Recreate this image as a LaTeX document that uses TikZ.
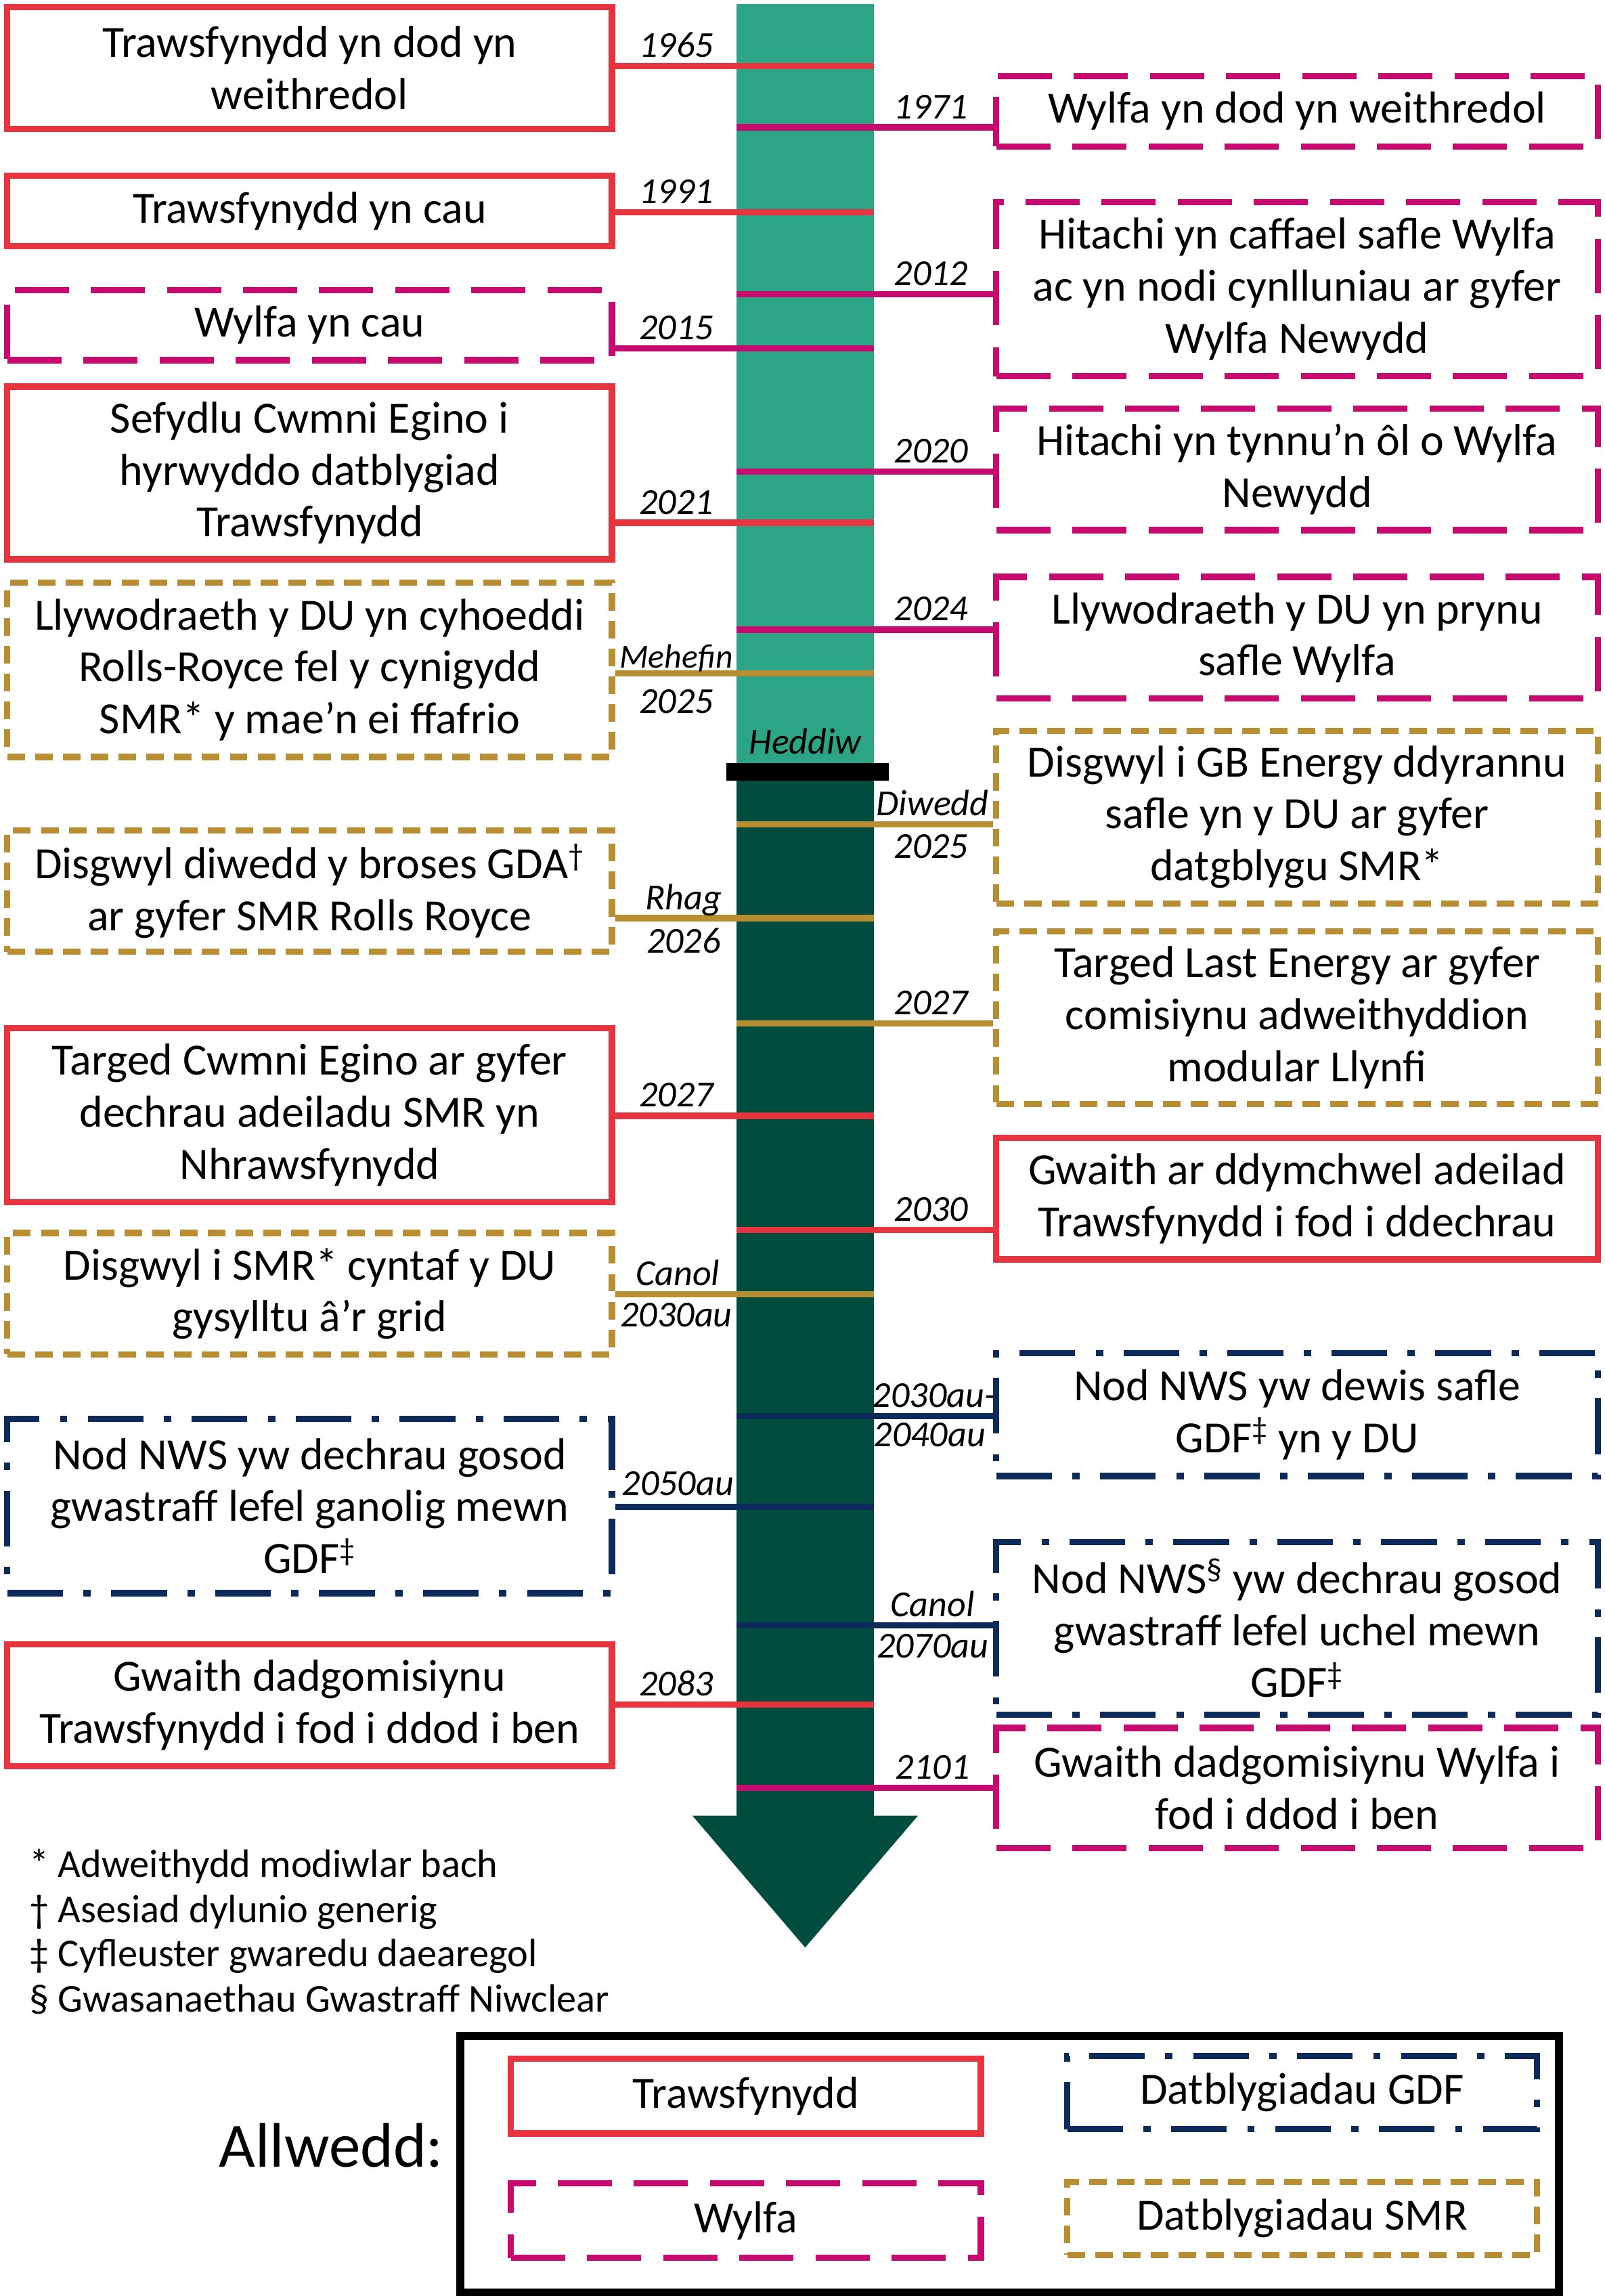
\documentclass[tikz,border=0pt]{standalone}
\usepackage{fontspec}
\setmainfont{Carlito}
\definecolor{cred}{HTML}{E8343F}
\definecolor{cmag}{HTML}{C8096F}
\definecolor{cgold}{HTML}{B98D31}
\definecolor{cnavy}{HTML}{0C2B5B}
\definecolor{clight}{HTML}{2CA586}
\definecolor{cdark}{HTML}{004D40}
\tikzset{
 box/.style={draw, line width=4.3pt, align=center, inner sep=0pt, fill=white,
   font=\fontsize{30.5}{35.5}\selectfont},
 trbox/.style={box, draw=cred},
 wybox/.style={box, draw=cmag, dash pattern=on 37pt off 15pt},
 smrbox/.style={box, draw=cgold, dash pattern=on 12pt off 7pt},
 gdfbox/.style={box, draw=cnavy, dash pattern=on 38pt off 14pt on 5pt off 14pt},
 lw/.style={minimum width=413pt},
 rw/.style={minimum width=411pt},
 conn/.style={line width=4.3pt},
 yr/.style={font=\fontsize{25}{28}\selectfont\itshape, inner sep=0pt, anchor=base},
 foot/.style={font=\fontsize{27}{30}\selectfont, inner sep=0pt, anchor=base west},
}
\begin{document}
\begin{tikzpicture}[x=1pt,y=-1pt]
\useasboundingbox (0,0) rectangle (1096,1568);
% timeline bar
\fill[clight] (503,3) rectangle (597,522);
\fill[cdark] (503,532) rectangle (597,1241);
\fill[cdark] (473,1240) -- (627,1240) -- (550,1330) -- cycle;
\fill[black] (496,521) rectangle (607,533);
\node[yr] (heddiw) at (550,515) {Heddiw};

% left boxes
\node[trbox, lw, minimum height=83pt] (L1) at (211.5,46.5) {Trawsfynydd yn dod yn\\weithredol};
\node[trbox, lw, minimum height=48pt] (L2) at (211.5,144) {Trawsfynydd yn cau};
\node[wybox, lw, minimum height=48pt] (L3) at (211.5,222) {Wylfa yn cau};
\node[trbox, lw, minimum height=118pt] (L4) at (211.5,323) {Sefydlu Cwmni Egino i\\hyrwyddo datblygiad\\Trawsfynydd};
\node[smrbox, lw, minimum height=119pt] (L5) at (211.5,457.5) {Llywodraeth y DU yn cyhoeddi\\Rolls-Royce fel y cynigydd\\SMR* y mae’n ei ffafrio};
\node[smrbox, lw, minimum height=83pt] (L6) at (211.5,608.5) {Disgwyl diwedd y broses GDA\textsuperscript{†}\\ar gyfer SMR Rolls Royce};
\node[trbox, lw, minimum height=119pt] (L7) at (211.5,761.5) {Targed Cwmni Egino ar gyfer\\dechrau adeiladu SMR yn\\Nhrawsfynydd};
\node[smrbox, lw, minimum height=83pt] (L8) at (211.5,883.5) {Disgwyl i SMR* cyntaf y DU\\gysylltu â’r grid};
\node[gdfbox, lw, minimum height=119pt] (L9) at (211.5,1028.5) {Nod NWS yw dechrau gosod\\gwastraff lefel ganolig mewn\\GDF\textsuperscript{‡}};
\node[trbox, lw, minimum height=83pt] (L10) at (211.5,1164.5) {Gwaith dadgomisiynu\\Trawsfynydd i fod i ddod i ben};

% right boxes
\node[wybox, rw, minimum height=48pt] (R1) at (886,76) {Wylfa yn dod yn weithredol};
\node[wybox, rw, minimum height=119pt] (R2) at (886,197.5) {Hitachi yn caffael safle Wylfa\\ac yn nodi cynlluniau ar gyfer\\Wylfa Newydd};
\node[wybox, rw, minimum height=83pt] (R3) at (886,320.5) {Hitachi yn tynnu’n ôl o Wylfa\\Newydd};
\node[wybox, rw, minimum height=83pt] (R4) at (886,435.5) {Llywodraeth y DU yn prynu\\safle Wylfa};
\node[smrbox, rw, minimum height=118pt] (R5) at (886,558) {Disgwyl i GB Energy ddyrannu\\safle yn y DU ar gyfer\\datgblygu SMR*};
\node[smrbox, rw, minimum height=118pt] (R6) at (886,695) {Targed Last Energy ar gyfer\\comisiynu adweithyddion\\modular Llynfi};
\node[trbox, rw, minimum height=83pt] (R7) at (886,818.5) {Gwaith ar ddymchwel adeilad\\Trawsfynydd i fod i ddechrau};
\node[gdfbox, rw, minimum height=84pt] (R8) at (886,966) {Nod NWS yw dewis safle\\GDF\textsuperscript{‡} yn y DU};
\node[gdfbox, rw, minimum height=118pt] (R9) at (886,1112) {Nod NWS\textsuperscript{§} yw dechrau gosod\\gwastraff lefel uchel mewn\\GDF\textsuperscript{‡}};
\node[wybox, rw, minimum height=82pt, fill=none] (R10) at (886,1221) {Gwaith dadgomisiynu Wylfa i\\fod i ddod i ben};

% bar anchor points
\coordinate (bL1) at (597,45);
\coordinate (bL2) at (597,145);
\coordinate (bL3) at (597,238);
\coordinate (bL4) at (597,357);
\coordinate (bL5) at (597,460);
\coordinate (bL6) at (597,627);
\coordinate (bL7) at (597,762);
\coordinate (bL8) at (597,884);
\coordinate (bL9) at (597,1029);
\coordinate (bL10) at (597,1164);
\coordinate (bR1) at (503,87);
\coordinate (bR2) at (503,201);
\coordinate (bR3) at (503,322);
\coordinate (bR4) at (503,430);
\coordinate (bR5) at (503,563);
\coordinate (bR6) at (503,699);
\coordinate (bR7) at (503,840);
\coordinate (bR8) at (503,967);
\coordinate (bR9) at (503,1110);
\coordinate (bR10) at (503,1221);

% connectors
\draw[conn, cred] (L1.east |- bL1) -- (bL1);
\draw[conn, cred] (L2.east |- bL2) -- (bL2);
\draw[conn, cmag] (L3.east |- bL3) -- (bL3);
\draw[conn, cred] (L4.east |- bL4) -- (bL4);
\draw[conn, cgold] (L5.east |- bL5) -- (bL5);
\draw[conn, cgold] (L6.east |- bL6) -- (bL6);
\draw[conn, cred] (L7.east |- bL7) -- (bL7);
\draw[conn, cgold] (L8.east |- bL8) -- (bL8);
\draw[conn, cnavy] (L9.east |- bL9) -- (bL9);
\draw[conn, cred] (L10.east |- bL10) -- (bL10);
\draw[conn, cmag] (bR1) -- (R1.west |- bR1);
\draw[conn, cmag] (bR2) -- (R2.west |- bR2);
\draw[conn, cmag] (bR3) -- (R3.west |- bR3);
\draw[conn, cmag] (bR4) -- (R4.west |- bR4);
\draw[conn, cgold] (bR5) -- (R5.west |- bR5);
\draw[conn, cgold] (bR6) -- (R6.west |- bR6);
\draw[conn, cred] (bR7) -- (R7.west |- bR7);
\draw[conn, cnavy] (bR8) -- (R8.west |- bR8);
\draw[conn, cnavy] (bR9) -- (R9.west |- bR9);
\draw[conn, cmag] (bR10) -- (R10.west |- bR10);

% year labels, left
\node[yr] (y1965) at (462,39) {1965};
\node[yr] (y1991) at (462,139) {1991};
\node[yr] (y2015) at (462,232) {2015};
\node[yr] (y2021) at (462,351) {2021};
\node[yr, font=\fontsize{23}{26}\selectfont\itshape] (y5a) at (462,456) {Mehefin};
\node[yr] (y5b) at (462,487) {2025};
\node[yr] (y6a) at (467,621) {Rhag};
\node[yr] (y6b) at (467,651) {2026};
\node[yr] (y2027a) at (462,756) {2027};
\node[yr] (y8a) at (463,878) {Canol};
\node[yr] (y8b) at (462,906) {2030au};
\node[yr] (y2050) at (463,1021) {2050au};
\node[yr] (y2083) at (462,1158) {2083};
% year labels, right
\node[yr] (y1971) at (636,81) {1971};
\node[yr] (y2012) at (636,195) {2012};
\node[yr] (y2020) at (636,316) {2020};
\node[yr] (y2024) at (636,424) {2024};
\node[yr] (yR5a) at (637,557) {Diwedd};
\node[yr] (yR5b) at (636,586) {2025};
\node[yr] (y2027b) at (636,693) {2027};
\node[yr] (y2030) at (636,834) {2030};
\node[yr] (yR8a) at (638,961) {2030au-};
\node[yr] (yR8b) at (635,988) {2040au};
\node[yr] (yR9a) at (637,1104) {Canol};
\node[yr] (yR9b) at (637,1132) {2070au};
\node[yr] (y2101) at (637,1215) {2101};

% footnotes
\node[foot] (f1) at (20,1282) {* Adweithydd modiwlar bach};
\node[foot] (f2) at (20,1313) {† Asesiad dylunio generig};
\node[foot] (f3) at (20,1343) {‡ Cyfleuster gwaredu daearegol};
\node[foot] (f4) at (20,1374) {§ Gwasanaethau Gwastraff Niwclear};

% legend
\draw[line width=5.6pt] (314.5,1390.5) rectangle (1065,1565.5);
\node[font=\fontsize{43}{48}\selectfont, inner sep=0pt, anchor=base east] (key) at (303,1480) {Allwedd:};
\node[trbox, minimum width=321pt, minimum height=51pt] (kT) at (509.5,1431.5) {Trawsfynydd};
\node[gdfbox, minimum width=321pt, minimum height=50pt] (kG) at (889.5,1429) {Datblygiadau GDF};
\node[wybox, minimum width=321pt, minimum height=51pt] (kW) at (509.5,1516.5) {Wylfa};
\node[smrbox, minimum width=321pt, minimum height=50pt] (kS) at (889.5,1515) {Datblygiadau SMR};
\end{tikzpicture}
\end{document}
